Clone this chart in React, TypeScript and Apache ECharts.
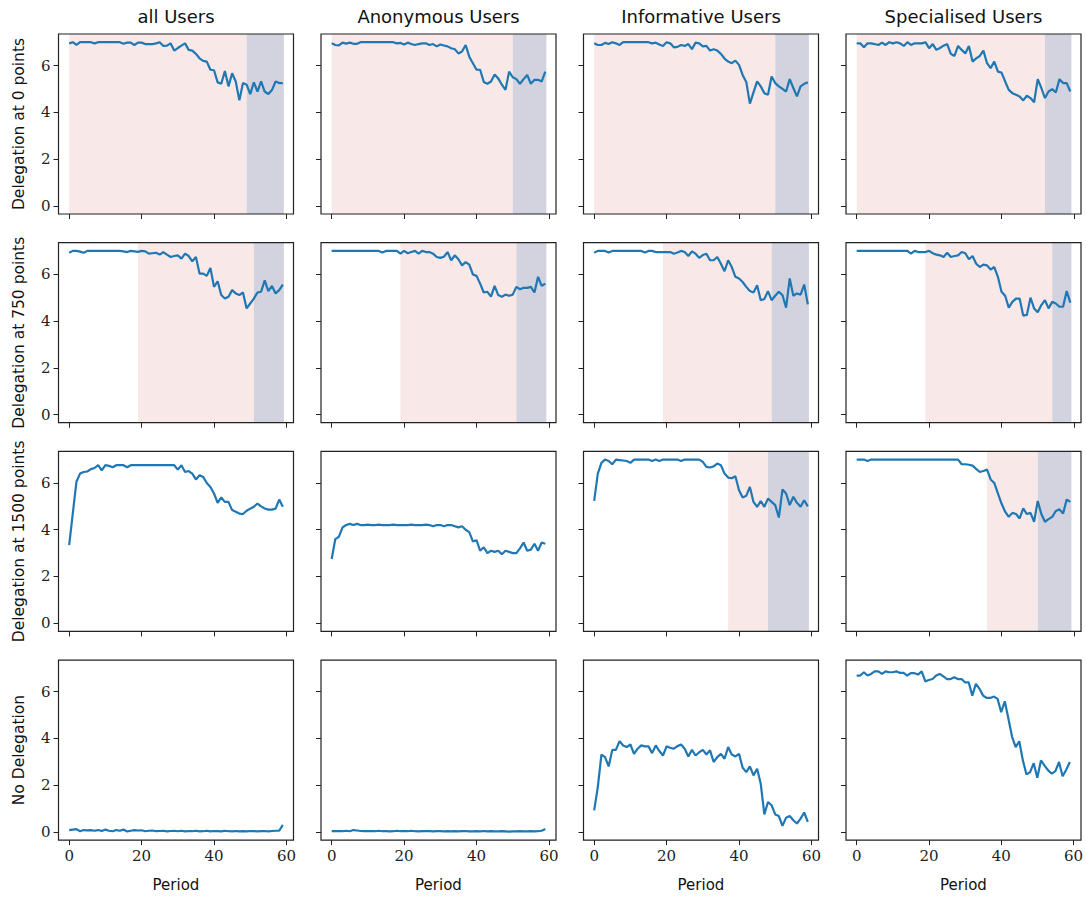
import React, { useEffect, useRef } from "react";
import * as echarts from "echarts";

const columnTitles = ["all Users", "Anonymous Users", "Informative Users", "Specialised Users"];
const rowLabels = ["Delegation at 0 points", "Delegation at 750 points", "Delegation at 1500 points", "No Delegation"];
const xTicks = [0, 20, 40, 60];
const yTicks = [0, 2, 4, 6];

// Row 1: Delegation at 0 points
const r1c1 = [6.95,7.0,6.88,7.0,7.0,7.0,7.0,6.95,7.0,7.0,7.0,7.0,7.0,7.0,7.0,6.93,6.98,6.98,6.88,6.98,6.98,6.92,6.92,6.92,6.95,7.0,6.84,6.85,6.95,6.64,6.75,6.85,6.95,6.67,6.64,6.5,6.31,6.2,6.17,5.82,5.8,5.28,5.22,5.77,5.11,5.67,5.32,4.51,5.25,5.18,4.78,5.28,4.89,5.32,4.89,4.78,4.95,5.32,5.25,5.25];
const r1c2 = [6.95,6.88,6.86,6.98,6.94,6.98,6.93,6.93,7.0,7.0,7.0,7.0,7.0,7.0,7.0,7.0,7.0,7.0,6.95,6.97,6.9,6.98,6.92,6.88,6.92,6.95,6.95,6.88,6.92,6.82,6.9,6.86,6.82,6.74,6.7,6.52,6.6,6.88,6.38,6.1,5.82,5.82,5.3,5.22,5.32,5.62,5.45,5.18,4.96,5.74,5.5,5.42,5.22,5.42,5.6,5.22,5.39,5.39,5.32,5.74];
const r1c3 = [6.95,6.88,6.88,6.97,6.92,7.0,6.95,6.88,7.0,7.0,7.0,7.0,7.0,7.0,7.0,7.0,6.95,6.98,6.9,6.84,7.0,6.95,6.78,6.8,6.88,6.84,6.92,6.7,6.98,6.95,6.82,6.84,6.64,6.7,6.64,6.5,6.3,6.17,6.1,6.21,6.03,5.6,5.3,4.37,4.85,5.32,5.11,4.82,4.75,5.53,5.25,5.11,5.0,4.89,5.42,5.04,4.68,5.11,5.22,5.28];
const r1c4 = [6.95,6.95,6.78,6.95,6.95,6.92,6.88,6.98,6.88,7.0,6.95,7.0,6.95,6.84,7.0,6.88,6.95,6.95,6.95,7.0,6.74,6.92,6.67,6.75,6.85,6.92,6.5,6.41,6.84,6.67,6.52,6.84,6.17,6.31,6.41,6.64,6.1,5.89,6.17,5.74,5.7,5.32,4.96,4.82,4.75,4.68,4.51,4.71,4.61,4.43,5.42,5.04,4.61,4.89,4.99,4.85,5.42,5.25,5.25,4.89];
// Row 2: Delegation at 750 points
const r2c1 = [6.92,7.0,7.0,6.97,6.92,7.0,7.0,7.0,7.0,7.0,7.0,7.0,7.0,7.0,7.0,6.98,6.95,7.0,6.98,6.96,7.0,6.98,6.88,6.9,6.92,6.84,6.95,6.84,6.74,6.78,6.81,6.67,6.88,6.78,6.55,6.74,6.03,6.03,5.93,6.27,5.46,5.7,5.11,4.96,5.04,5.32,5.18,5.11,5.22,4.54,4.75,4.96,5.22,5.25,5.74,5.28,5.5,5.18,5.32,5.56];
const r2c2 = [7.0,7.0,7.0,7.0,7.0,7.0,7.0,7.0,7.0,7.0,7.0,7.0,7.0,7.0,6.93,7.0,7.0,7.0,7.0,6.88,7.0,6.9,6.95,7.0,6.88,7.0,6.95,6.95,6.88,6.74,6.7,6.75,6.95,6.6,6.81,6.64,6.38,6.52,6.41,5.99,5.93,5.6,5.22,5.25,5.04,5.5,5.11,5.04,5.13,5.08,5.13,5.46,5.36,5.42,5.42,5.46,5.22,5.89,5.5,5.6];
const r2c3 = [6.92,7.0,7.0,7.0,6.93,7.0,7.0,7.0,7.0,7.0,7.0,7.0,7.0,7.0,6.93,7.0,7.0,6.95,6.95,6.95,6.95,6.95,6.88,6.93,7.0,6.95,6.78,6.98,6.88,6.7,6.82,6.88,6.6,6.6,6.74,6.45,6.13,6.6,6.31,5.89,5.82,5.67,5.46,5.28,5.22,5.53,4.89,4.94,5.28,4.89,5.08,5.25,5.11,4.57,5.82,5.08,5.18,5.13,5.56,4.71];
const r2c4 = [7.0,7.0,7.0,7.0,7.0,7.0,7.0,7.0,7.0,7.0,7.0,7.0,7.0,7.0,7.0,6.88,7.0,6.95,6.95,6.95,7.0,6.9,6.84,6.81,6.74,6.92,6.74,6.78,6.81,6.95,6.9,6.64,6.78,6.45,6.31,6.41,6.38,6.2,6.31,5.89,5.25,5.08,4.57,4.82,4.96,4.96,4.23,4.26,5.0,4.54,4.37,4.68,4.89,4.54,4.82,4.75,4.61,4.61,5.28,4.79];
// Row 3: Delegation at 1500 points
const r3c1 = [3.34,4.7,6.05,6.4,6.47,6.49,6.59,6.64,6.76,6.54,6.76,6.73,6.67,6.76,6.76,6.76,6.67,6.76,6.76,6.76,6.76,6.76,6.76,6.76,6.76,6.76,6.76,6.76,6.76,6.76,6.57,6.76,6.47,6.51,6.4,6.15,6.33,6.26,6.0,5.83,5.55,5.15,5.38,5.19,5.19,4.84,4.77,4.69,4.67,4.81,4.9,4.98,5.12,5.0,4.91,4.86,4.86,4.9,5.29,4.98];
const r3c2 = [2.75,3.6,3.7,4.1,4.2,4.25,4.2,4.25,4.2,4.2,4.22,4.2,4.2,4.22,4.2,4.2,4.2,4.22,4.2,4.2,4.2,4.2,4.22,4.2,4.2,4.2,4.22,4.2,4.15,4.2,4.2,4.15,4.2,4.2,4.15,4.1,4.15,4.0,3.9,3.5,3.55,3.1,3.25,3.0,3.1,3.05,3.1,2.95,3.1,3.05,3.0,3.0,3.2,3.45,3.1,3.15,3.4,3.1,3.45,3.4];
const r3c3 = [5.23,6.4,6.86,7.0,6.94,6.8,7.0,6.98,6.96,6.94,6.86,7.0,7.0,7.0,7.0,7.0,6.94,7.0,6.94,7.0,7.0,7.0,7.0,7.0,6.94,7.0,7.0,7.0,7.0,7.0,6.9,6.69,6.66,6.71,6.83,6.76,6.4,6.23,6.2,6.29,5.69,5.38,5.45,5.83,5.19,4.98,5.23,4.98,5.33,5.19,5.05,4.52,5.72,5.55,5.05,5.41,5.15,4.98,5.26,5.0];
const r3c4 = [7.0,7.0,7.0,6.94,7.0,7.0,7.0,7.0,7.0,7.0,7.0,7.0,7.0,7.0,7.0,7.0,7.0,7.0,7.0,7.0,7.0,7.0,7.0,7.0,7.0,7.0,7.0,7.0,7.0,6.8,6.8,6.78,6.74,6.6,6.47,6.51,6.57,6.15,6.0,5.55,5.12,4.77,4.55,4.72,4.67,4.48,4.91,4.67,4.72,4.34,5.23,4.67,4.34,4.45,4.55,4.8,4.87,4.69,5.29,5.19];
// Row 4: No Delegation
const r4c1 = [0.08,0.1,0.12,0.03,0.08,0.07,0.08,0.05,0.08,0.04,0.1,0.05,0.03,0.08,0.05,0.1,0.02,0.05,0.08,0.06,0.07,0.03,0.05,0.06,0.03,0.04,0.05,0.02,0.04,0.05,0.03,0.05,0.02,0.04,0.03,0.05,0.02,0.03,0.05,0.02,0.04,0.03,0.02,0.05,0.03,0.02,0.04,0.02,0.03,0.02,0.04,0.03,0.02,0.03,0.04,0.02,0.04,0.05,0.05,0.3];
const r4c2 = [0.03,0.03,0.03,0.03,0.05,0.03,0.08,0.06,0.04,0.03,0.03,0.03,0.03,0.05,0.03,0.03,0.02,0.03,0.05,0.03,0.04,0.03,0.05,0.03,0.02,0.03,0.04,0.03,0.02,0.03,0.03,0.02,0.03,0.02,0.03,0.02,0.03,0.04,0.02,0.02,0.03,0.02,0.04,0.02,0.03,0.02,0.02,0.03,0.02,0.01,0.02,0.02,0.03,0.02,0.02,0.03,0.02,0.03,0.05,0.12];
const r4c3 = [0.92,1.92,3.31,3.2,2.8,3.51,3.51,3.88,3.7,3.63,3.74,3.34,3.56,3.7,3.66,3.66,3.37,3.7,3.46,3.27,3.66,3.6,3.56,3.67,3.74,3.56,3.23,3.51,3.27,3.41,3.51,3.31,3.49,2.99,3.2,3.34,3.13,3.63,3.31,3.23,3.34,2.75,2.56,2.8,2.42,2.7,2.06,0.75,1.28,1.14,0.75,0.68,0.26,0.61,0.68,0.5,0.36,0.57,0.83,0.43];
const r4c4 = [6.69,6.69,6.83,6.69,6.76,6.87,6.87,6.76,6.87,6.83,6.83,6.87,6.8,6.8,6.69,6.79,6.79,6.73,6.87,6.44,6.5,6.54,6.69,6.76,6.65,6.54,6.54,6.62,6.54,6.54,6.4,6.4,5.83,6.33,6.12,5.83,5.73,5.73,5.79,5.69,5.12,5.59,4.84,4.08,3.63,3.88,3.06,2.46,2.56,2.94,2.32,3.06,2.84,2.63,2.49,2.6,2.99,2.38,2.66,2.99];

const seriesValues = [r1c1, r1c2, r1c3, r1c4, r2c1, r2c2, r2c3, r2c4, r3c1, r3c2, r3c3, r3c4, r4c1, r4c2, r4c3, r4c4];

// shaded period spans [start, end] per panel (null = none)
const pinkSpans = [[0, 49], [0, 50], [0, 50], [0, 52], [19, 51], [19, 51], [19, 49], [19, 54], null, null, [37, 48], [36, 50], null, null, null, null];
const purpleSpans = [[49, 59.3], [50, 59.3], [50, 59.3], [52, 59.3], [51, 59.3], [51, 59.3], [49, 59.3], [54, 59.3], null, null, [48, 59.3], [50, 59.3], null, null, null, null];

const SANS = "DejaVu Sans";
const SERIF = "DejaVu Serif";

export default function App() {
  const ref = useRef<HTMLDivElement>(null);
  useEffect(() => {
    if (!ref.current) return;
    const chart = echarts.init(ref.current, null, { renderer: "svg" });
    const gLeft = 58.5, gTop = 34, gW = 235, gH = 180, dx = 262.5, dy = 208.7;
    const grids: any[] = [], xAxes: any[] = [], yAxes: any[] = [], series: any[] = [], graphics: any[] = [];
    for (let r = 0; r < 4; r++) {
      for (let c = 0; c < 4; c++) {
        const k = r * 4 + c;
        const left = gLeft + c * dx, top = gTop + r * dy;
        grids.push({ left, top, width: gW, height: gH, containLabel: false });
        xAxes.push({
          type: "value", gridIndex: k, min: -2.95, max: 61.95, position: "bottom",
          axisLine: { show: false, onZero: false },
          axisTick: { show: true, inside: false, length: 5, lineStyle: { color: "#222", width: 1 }, customValues: xTicks },
          axisLabel: { show: r === 3, customValues: xTicks, fontFamily: SERIF, fontSize: 15, color: "#222", margin: 8 },
          splitLine: { show: false },
        });
        yAxes.push({
          type: "value", gridIndex: k, min: -0.35, max: 7.35, position: "left",
          axisLine: { show: false, onZero: false },
          axisTick: { show: true, inside: false, length: 5, lineStyle: { color: "#222", width: 1 }, customValues: yTicks },
          axisLabel: { show: c === 0, customValues: yTicks, fontFamily: SERIF, fontSize: 15, color: "#222", margin: 8 },
          splitLine: { show: false },
        });
        const areas: any[] = [];
        const p = pinkSpans[k];
        if (p) areas.push([{ xAxis: p[0], itemStyle: { color: "#f8e8e8" } }, { xAxis: p[1] }]);
        const q = purpleSpans[k];
        if (q) areas.push([{ xAxis: q[0], itemStyle: { color: "#d3d2df" } }, { xAxis: q[1] }]);
        series.push({
          type: "line", xAxisIndex: k, yAxisIndex: k, showSymbol: false, symbol: "none",
          data: seriesValues[k].map((v, i) => [i, v]),
          lineStyle: { color: "#1f77b4", width: 2.2 },
          itemStyle: { color: "#1f77b4" },
          markArea: areas.length ? { silent: true, data: areas, itemStyle: { opacity: 1 } } : undefined,
          z: 5,
        });
        graphics.push({
          type: "rect", shape: { x: left, y: top, width: gW, height: gH },
          style: { fill: "none", stroke: "#222", lineWidth: 1.2 }, z: 100, silent: true,
        });
      }
    }
    for (let c = 0; c < 4; c++) {
      const cx = gLeft + c * dx + gW / 2;
      graphics.push({ type: "text", x: cx, y: 16, style: { text: columnTitles[c], textAlign: "center", textVerticalAlign: "middle", font: `18px "${SANS}"`, fill: "#111" }, z: 100 });
      graphics.push({ type: "text", x: cx, y: 885, style: { text: "Period", textAlign: "center", textVerticalAlign: "middle", font: `15px "${SANS}"`, fill: "#111" }, z: 100 });
    }
    for (let r = 0; r < 4; r++) {
      const cy = gTop + r * dy + gH / 2;
      graphics.push({ type: "text", x: 19, y: cy, rotation: Math.PI / 2, style: { text: rowLabels[r], textAlign: "center", textVerticalAlign: "middle", font: `15.5px "${SANS}"`, fill: "#111" }, z: 100 });
    }
    chart.setOption({
      animation: false,
      backgroundColor: "#fff",
      grid: grids, xAxis: xAxes, yAxis: yAxes, series, graphic: graphics,
    });
    return () => chart.dispose();
  }, []);
  return <div ref={ref} style={{ position: "fixed", left: 0, top: 0, width: 1086, height: 899 }} />;
}
